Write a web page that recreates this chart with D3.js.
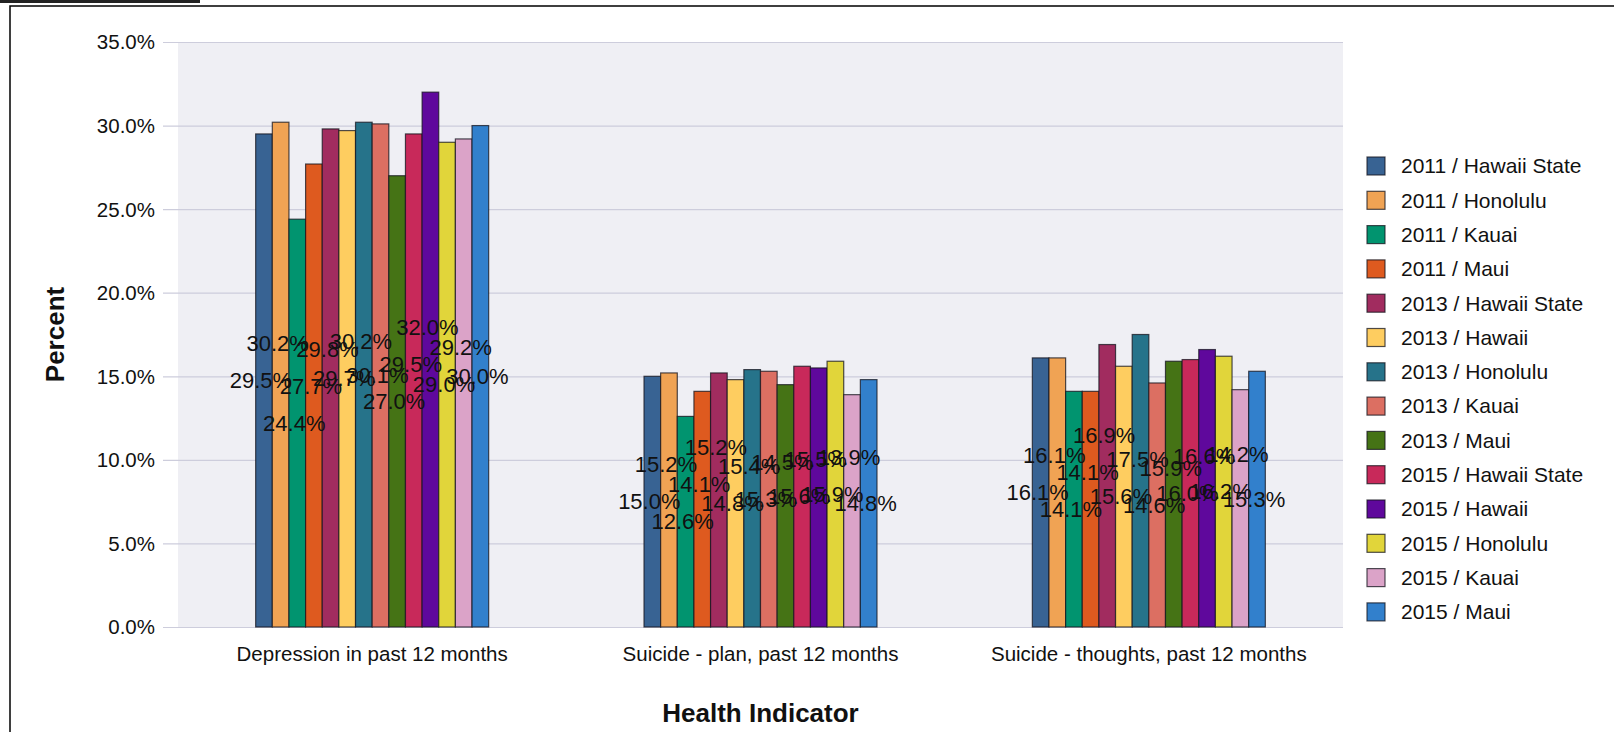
<!DOCTYPE html>
<html>
<head>
<meta charset="utf-8">
<script src="https://cdn.jsdelivr.net/npm/d3@7"></script>
<style>
  html, body { margin: 0; padding: 0; background: #ffffff; }
  svg { display: block; font-family: "Liberation Sans", Arial, sans-serif; }
</style>
</head>
<body>
<svg id="chart" width="1614" height="732"></svg>
<script>
// ---- data ----
const categories = [
  "Depression in past 12 months",
  "Suicide - plan, past 12 months",
  "Suicide - thoughts, past 12 months"
];
const seriesNames = [
  "2011 / Hawaii State", "2011 / Honolulu", "2011 / Kauai", "2011 / Maui",
  "2013 / Hawaii State", "2013 / Hawaii", "2013 / Honolulu", "2013 / Kauai", "2013 / Maui",
  "2015 / Hawaii State", "2015 / Hawaii", "2015 / Honolulu", "2015 / Kauai", "2015 / Maui"
];
const depression      = [29.5, 30.2, 24.4, 27.7, 29.8, 29.7, 30.2, 30.1, 27.0, 29.5, 32.0, 29.0, 29.2, 30.0];
const suicidePlan     = [15.0, 15.2, 12.6, 14.1, 15.2, 14.8, 15.4, 15.3, 14.5, 15.6, 15.5, 15.9, 13.9, 14.8];
const suicideThoughts = [16.1, 16.1, 14.1, 14.1, 16.9, 15.6, 17.5, 14.6, 15.9, 16.0, 16.6, 16.2, 14.2, 15.3];
const yTicks = [0, 5, 10, 15, 20, 25, 30, 35];
const seriesColors = [
  "#386393", "#f0a354", "#01946f", "#de5a1f",
  "#a12c5f", "#fecd60", "#26738a", "#dc6f62", "#457315",
  "#c8295a", "#5f089c", "#e1d53a", "#dba3c8", "#3280cc"
];

const valuesByCategory = [depression, suicidePlan, suicideThoughts];

// ---- layout ----
const svg = d3.select("#chart");
const plot = { left: 178, right: 1343, top: 42, bottom: 627 };

const x0 = d3.scaleBand().domain(categories).range([plot.left, plot.right]).paddingInner(0).paddingOuter(0);
const groupFrac = 0.6;
const x1 = d3.scaleBand().domain(d3.range(seriesNames.length))
  .range([0, x0.bandwidth() * groupFrac]).padding(0);
const y = d3.scaleLinear().domain([0, 35]).range([plot.bottom, plot.top]);

// frame decorations
svg.append("rect").attr("x", 0).attr("y", 0).attr("width", 200).attr("height", 3).attr("fill", "#222");
svg.append("path").attr("d", "M10,732 V6 H1614").attr("fill", "none").attr("stroke", "#000").attr("stroke-width", 1.5);

// plot background
svg.append("rect").attr("x", plot.left).attr("y", plot.top)
  .attr("width", plot.right - plot.left).attr("height", plot.bottom - plot.top)
  .attr("fill", "#efeff4");

// grid + y axis
const gy = svg.append("g").attr("transform", `translate(${plot.right},0)`)
  .call(d3.axisLeft(y).tickValues(yTicks).tickSize(plot.right - 163).tickPadding(8)
    .tickFormat(d => d3.format(".1f")(d) + "%"));
gy.select(".domain").remove();
gy.selectAll(".tick line").attr("stroke", "#cdcddc").attr("stroke-width", 1.2);
gy.selectAll(".tick text").attr("font-size", 20.5).attr("fill", "#111")
  .attr("font-family", "Liberation Sans, Arial, sans-serif")
  .attr("x", -(plot.right - 155)).attr("dy", "0.34em");

// bars
const groups = svg.append("g").selectAll("g").data(categories).join("g")
  .attr("transform", c => `translate(${x0(c) + x0.bandwidth() * (1 - groupFrac) / 2},0)`);

groups.selectAll("rect").data((c, ci) => valuesByCategory[ci].map((v, i) => ({ v, i })))
  .join("rect")
  .attr("x", d => x1(d.i))
  .attr("y", d => y(d.v))
  .attr("width", x1.bandwidth())
  .attr("height", d => y(0) - y(d.v))
  .attr("fill", d => seriesColors[d.i])
  .attr("stroke", "rgba(20,20,30,0.75)")
  .attr("stroke-width", 1.2);

// value labels: placed at bar middle, bumped above previous label on collision
const labelLayer = svg.append("g");
categories.forEach((c, ci) => {
  const gx = x0(c) + x0.bandwidth() * (1 - groupFrac) / 2;
  let prevY = null;
  valuesByCategory[ci].forEach((v, i) => {
    let ly = y(v / 2);
    if (prevY !== null) {
      const d = ly - prevY;
      if (d > -29 && d < 25) ly = prevY - 37;
    }
    prevY = ly;
    labelLayer.append("text")
      .attr("x", gx + x1(i) + x1.bandwidth() / 2 - 3)
      .attr("y", ly)
      .attr("dy", "0.35em")
      .attr("text-anchor", "middle")
      .attr("font-size", 22)
      .attr("fill", "#111")
      .text(d3.format(".1f")(v) + "%");
  });
});

// x axis category labels
svg.append("g").selectAll("text").data(categories).join("text")
  .attr("x", c => x0(c) + x0.bandwidth() / 2)
  .attr("y", 661)
  .attr("text-anchor", "middle")
  .attr("font-size", 20.5)
  .attr("fill", "#111")
  .text(c => c);

// axis titles
svg.append("text")
  .attr("transform", `translate(${55 + 9},${(plot.top + plot.bottom) / 2}) rotate(-90)`)
  .attr("text-anchor", "middle")
  .attr("font-size", 26).attr("font-weight", "bold").attr("fill", "#111")
  .text("Percent");
svg.append("text")
  .attr("x", (plot.left + plot.right) / 2)
  .attr("y", 722)
  .attr("text-anchor", "middle")
  .attr("font-size", 26).attr("font-weight", "bold").attr("fill", "#111")
  .text("Health Indicator");

// legend
const legend = svg.append("g").selectAll("g").data(seriesNames).join("g")
  .attr("transform", (d, i) => `translate(1367,${166 + i * 34.3})`);
legend.append("rect")
  .attr("x", 0).attr("y", -9).attr("width", 18).attr("height", 18)
  .attr("fill", (d, i) => seriesColors[i])
  .attr("stroke", "rgba(20,20,30,0.75)").attr("stroke-width", 1.2);
legend.append("text")
  .attr("x", 34).attr("y", 0).attr("dy", "0.35em")
  .attr("font-size", 21).attr("fill", "#111")
  .text(d => d);
</script>
</body>
</html>
